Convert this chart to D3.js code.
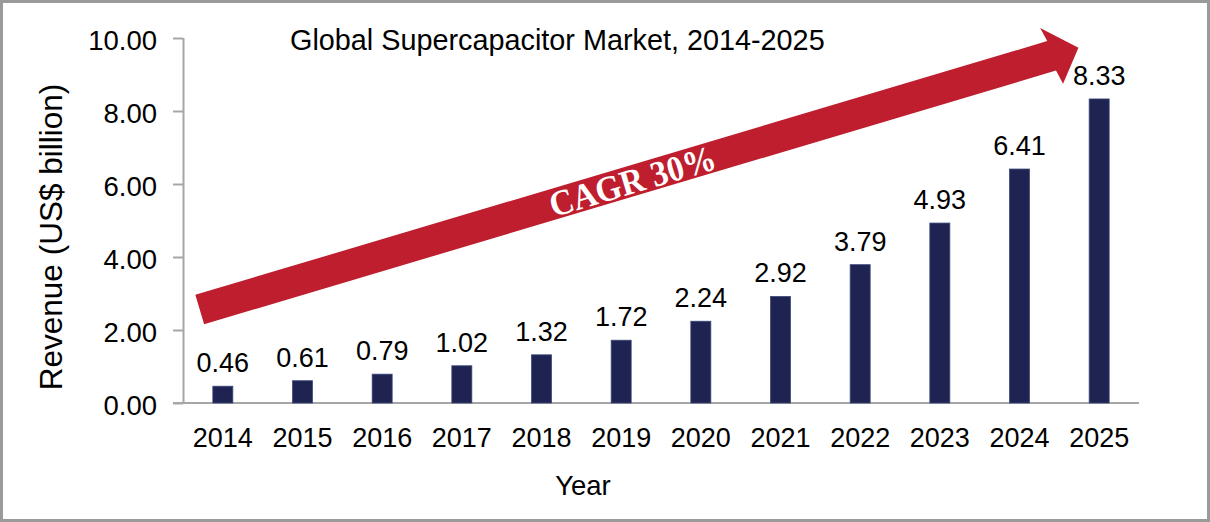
<!DOCTYPE html>
<html>
<head>
<meta charset="utf-8">
<script src="https://cdn.jsdelivr.net/npm/d3@7"></script>
<style>
  body { margin: 0; background: #fff; }
  svg { display: block; font-family: "Liberation Sans", Arial, sans-serif; }
</style>
</head>
<body>
<div id="chart"></div>
<script>
// chart data
const years = ["2014", "2015", "2016", "2017", "2018", "2019", "2020", "2021", "2022", "2023", "2024", "2025"];
const revenue = [0.46, 0.61, 0.79, 1.02, 1.32, 1.72, 2.24, 2.92, 3.79, 4.93, 6.41, 8.33];
const yTicks = [0, 2, 4, 6, 8, 10];

// CAGR arrow, given in data space (fractional year, revenue)
const arrowTail = [2013.71, 2.56];
const arrowTip = [2024.74, 9.73];
const cagrLabel = "CAGR 30%";
const cagrAt = 2019.14; // where the label sits along the arrow

const width = 1210, height = 522;
const margin = { top: 38, right: 71, bottom: 119, left: 183 };

const svg = d3.select("#chart")
    .append("svg")
    .attr("width", width)
    .attr("height", height);

// outer grey frame
svg.append("rect")
    .attr("x", 1.5).attr("y", 1.5)
    .attr("width", width - 3).attr("height", height - 3)
    .attr("fill", "#fff")
    .attr("stroke", "#9a9a9a")
    .attr("stroke-width", 3);

const x = d3.scaleBand()
    .domain(years)
    .range([margin.left, width - margin.right])
    .paddingInner(0.749)
    .paddingOuter(0.3745);

const y = d3.scaleLinear()
    .domain([0, 10])
    .range([height - margin.bottom, margin.top]);

// fractional-year scale for the annotation arrow
const xc = d3.scaleLinear()
    .domain([2014, 2025])
    .range([x("2014") + x.bandwidth() / 2, x("2025") + x.bandwidth() / 2]);

// y axis
const yAxis = svg.append("g")
    .attr("transform", `translate(${margin.left},0)`)
    .call(d3.axisLeft(y).tickValues(yTicks).tickFormat(d3.format(".2f")).tickSize(10).tickPadding(16));
yAxis.select(".domain").attr("stroke", "#a6a6a6").attr("stroke-width", 2).attr("d", `M0.5,${y(10)}V${y(0)}`);
yAxis.selectAll(".tick line").attr("stroke", "#a6a6a6").attr("stroke-width", 2);
yAxis.selectAll(".tick text")
    .attr("font-size", 27.5)
    .attr("fill", "#000")
    .attr("dy", "0.42em")
    .style("font-family", "'Liberation Sans', Arial, sans-serif");

// x axis
const xAxis = svg.append("g")
    .attr("transform", `translate(0,${y(0)})`)
    .call(d3.axisBottom(x).tickSize(0).tickPadding(25));
xAxis.select(".domain").attr("stroke", "#a6a6a6").attr("stroke-width", 2)
    .attr("d", `M${margin.left - 10},0H${width - margin.right}`);
xAxis.selectAll(".tick text")
    .attr("font-size", 27)
    .attr("fill", "#000")
    .style("font-family", "'Liberation Sans', Arial, sans-serif");

// bars
svg.append("g")
    .selectAll("rect")
    .data(years)
    .join("rect")
    .attr("x", d => x(d))
    .attr("width", x.bandwidth())
    .attr("y", (d, i) => y(revenue[i]))
    .attr("height", (d, i) => y(0) - y(revenue[i]))
    .attr("fill", "#1f2352")
    .attr("stroke", "#3a4a7a")
    .attr("stroke-width", 0.8);

// value labels
svg.append("g")
    .selectAll("text")
    .data(years)
    .join("text")
    .attr("x", d => x(d) + x.bandwidth() / 2)
    .attr("y", (d, i) => y(revenue[i]) - 14)
    .attr("text-anchor", "middle")
    .attr("font-size", 27)
    .attr("fill", "#000")
    .text((d, i) => revenue[i].toFixed(2));

// CAGR arrow
const p0 = [xc(arrowTail[0]), y(arrowTail[1])];
const p1 = [xc(arrowTip[0]), y(arrowTip[1])];
const len = Math.hypot(p1[0] - p0[0], p1[1] - p0[1]);
const rad = Math.atan2(p1[1] - p0[1], p1[0] - p0[0]);
const shaftHalf = 15.4, headLen = 28, headHalf = 30;

const arrow = svg.append("g")
    .attr("transform", `translate(${p0[0]},${p0[1]}) rotate(${rad * 180 / Math.PI})`);

arrow.append("path")
    .attr("d", d3.line()([
        [0, -shaftHalf],
        [len - headLen, -shaftHalf],
        [len - headLen - 3, -headHalf],
        [len, 0],
        [len - headLen + 3, headHalf],
        [len - headLen, shaftHalf],
        [0, shaftHalf]
    ]) + "Z")
    .attr("fill", "#be1e2d");

arrow.append("text")
    .attr("x", (xc(cagrAt) - p0[0]) / Math.cos(rad))
    .attr("y", 0)
    .attr("dy", "0.35em")
    .attr("text-anchor", "middle")
    .attr("font-family", "'Liberation Serif', 'Times New Roman', serif")
    .attr("font-weight", "bold")
    .attr("font-size", 36)
    .attr("textLength", 172)
    .attr("lengthAdjust", "spacingAndGlyphs")
    .attr("fill", "#fff")
    .text(cagrLabel);

// title
svg.append("text")
    .attr("x", 290)
    .attr("y", 50)
    .attr("font-size", 28.8)
    .attr("fill", "#000")
    .text("Global Supercapacitor Market, 2014-2025");

// axis titles
svg.append("text")
    .attr("x", 583)
    .attr("y", 495)
    .attr("text-anchor", "middle")
    .attr("font-size", 27.5)
    .attr("fill", "#000")
    .text("Year");

svg.append("text")
    .attr("transform", "translate(62,237) rotate(-90)")
    .attr("text-anchor", "middle")
    .attr("font-size", 31.5)
    .attr("fill", "#000")
    .text("Revenue (US$ billion)");
</script>
</body>
</html>
